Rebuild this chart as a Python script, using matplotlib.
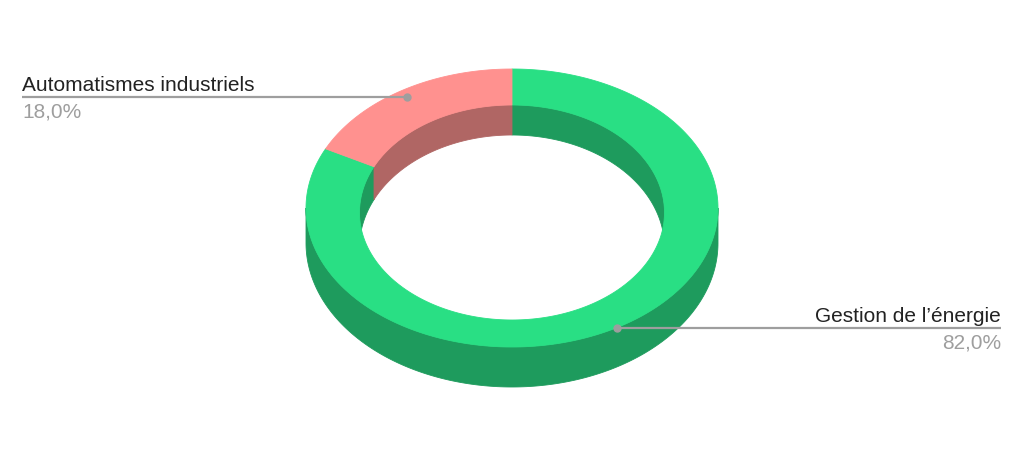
import numpy as np
import matplotlib.pyplot as plt
from matplotlib.patches import Polygon

# data
labels = ["Gestion de l’énergie", "Automatismes industriels"]
values = [82.0, 18.0]
top_colors = ["#29df84", "#ff918f"]
side_colors = ["#1e9b5d", "#b06664"]

plt.rcParams['font.family'] = ['Liberation Sans', 'DejaVu Sans']

# ring outlines as seen in perspective: (cx, cy, rx, ry)
outer = (512, 208, 206, 139)
inner = (512, 212.5, 152.5, 107.5)
anchor = (512, 212.5, 196, 137)   # where the label leader lines start


def depth(th):
    # wall height grows toward the viewer
    return 35 - 5 * np.sin(np.radians(th))


def ell(ring, th, dy=False):
    cx, cy, rx, ry = ring
    t = np.radians(th)
    x = cx + rx * np.cos(t)
    y = cy - ry * np.sin(t)
    if dy:
        y = y + depth(th)
    return x, y


def clip(lo, hi, wlo, whi):
    out = []
    for k in range(-2, 3):
        a, b = max(lo, wlo + 360 * k), min(hi, whi + 360 * k)
        if b > a:
            out.append((a, b))
    return out


fig = plt.figure(figsize=(10.24, 4.57), dpi=100)
ax = fig.add_axes([0, 0, 1, 1])
ax.set_xlim(0, 1024)
ax.set_ylim(457, 0)
ax.axis('off')

total = sum(values)
start = 90.0
slices = []
for v in values:
    span = v / total * 360
    slices.append((start - span, start))
    start -= span


def band(ring, a, b, z, c):
    th = np.linspace(a, b, 200)
    x1, y1 = ell(ring, th)
    x2, y2 = ell(ring, th[::-1], dy=True)
    pts = np.column_stack([np.r_[x1, x2], np.r_[y1, y2]])
    ax.add_patch(Polygon(pts, closed=True, fc=c, ec=c, lw=0.6, zorder=z))


# inner walls (back half), outer walls (front half)
for (lo, hi), c in zip(slices, side_colors):
    for a, b in clip(lo, hi, 0, 180):
        band(inner, a, b, 1, c)
    for a, b in clip(lo, hi, 180, 360):
        band(outer, a, b, 2, c)

# top faces
for (lo, hi), c in zip(slices, top_colors):
    th = np.linspace(lo, hi, 300)
    xo, yo = ell(outer, th)
    xi, yi = ell(inner, th[::-1])
    pts = np.column_stack([np.r_[xo, xi], np.r_[yo, yi]])
    ax.add_patch(Polygon(pts, closed=True, fc=c, ec=c, lw=0.6, zorder=3))

# labels
label_pos = [(1001, 'right'), (22, 'left')]
for (lo, hi), lab, v, (xe, ha) in zip(slices, labels, values, label_pos):
    mx, my = ell(anchor, (lo + hi) / 2)
    ax.plot([mx, xe], [my, my], color='#9e9e9e', lw=1.6, zorder=4,
            solid_capstyle='butt')
    ax.plot(mx, my, 'o', color='#9e9e9e', ms=5, zorder=5)
    ax.text(xe, my - 6, lab, ha=ha, va='baseline', fontsize=15,
            color='#222222')
    ax.text(xe, my + 20.5, f"{v:.1f}".replace('.', ',') + '%', ha=ha,
            va='baseline', fontsize=15, color='#9e9e9e')

fig.savefig('out.png', dpi=100, facecolor='white')
